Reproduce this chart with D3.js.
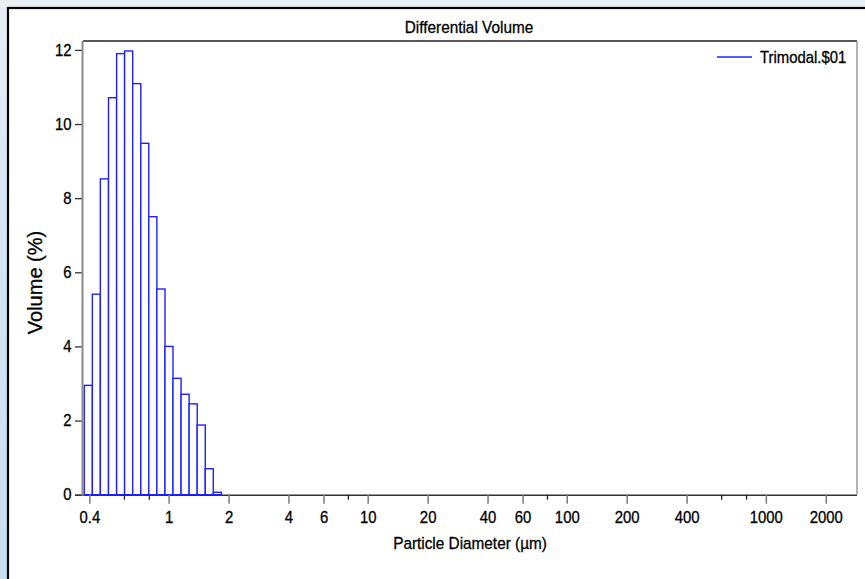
<!DOCTYPE html>
<html>
<head>
<meta charset="utf-8">
<script src="https://cdn.jsdelivr.net/npm/d3@7/dist/d3.min.js"></script>
<style>
  html, body { margin: 0; padding: 0; background: #fff; }
  svg { display: block; font-family: "Liberation Sans", Arial, sans-serif; }
  svg text { stroke: #000; stroke-width: 0.3px; }
</style>
</head>
<body>
<svg id="chart" width="865" height="579"></svg>
<script>
// Channel edges (µm) of the size bins that carry volume
const binEdges = [0.377, 0.414, 0.454, 0.499, 0.548, 0.601, 0.660, 0.725, 0.795,
                  0.873, 0.959, 1.052, 1.155, 1.268, 1.392, 1.528, 1.677, 1.841];
// Differential volume (%) per channel
const volumes = [2.95, 5.41, 8.52, 10.71, 11.90, 11.97, 11.09, 9.48, 7.50,
                 5.55, 4.00, 3.14, 2.71, 2.45, 1.88, 0.70, 0.065];
const seriesName = "Trimodal.$01";

// Axis ranges and ticks
const xDomain = [0.3715, 2870];
const yDomain = [0, 12.24];
const xMajorTicks = [0.4, 1, 2, 4, 6, 10, 20, 40, 60, 100, 200, 400, 1000, 2000];
const xMinorTicks = [0.6, 0.8, 8, 80, 600, 800];
const yTicks = [0, 2, 4, 6, 8, 10, 12];

const svg = d3.select("#chart");
const W = 865, H = 579;
const plot = { left: 83, right: 857, top: 41, bottom: 494.7 };
const FONT = "Liberation Sans, Arial, sans-serif";
const NARROW = 0.93;   // slightly condensed lettering

// Page backdrop and framed panel
const defs = svg.append("defs");
const gLeft = defs.append("linearGradient").attr("id", "sideGrad")
  .attr("x1", 0).attr("y1", 0).attr("x2", 0).attr("y2", 1);
gLeft.append("stop").attr("offset", "0%").attr("stop-color", "#e6edf4");
gLeft.append("stop").attr("offset", "45%").attr("stop-color", "#d3e4f3");
gLeft.append("stop").attr("offset", "100%").attr("stop-color", "#c9ddf2");
svg.append("rect").attr("width", W).attr("height", H).attr("fill", "url(#sideGrad)");
svg.append("rect").attr("x", 0).attr("y", 0).attr("width", W).attr("height", 8)
  .attr("fill", "#e9eef3");
svg.append("rect").attr("x", 8).attr("y", 8).attr("width", W).attr("height", H)
  .attr("fill", "#ffffff").attr("stroke", "#000").attr("stroke-width", 2.2);

const x = d3.scaleLog().domain(xDomain).range([plot.left, plot.right]);
const y = d3.scaleLinear().domain(yDomain).range([plot.bottom, plot.top]);

// Baseline drawn first so the bar bottoms sit on top of it
svg.append("line").attr("x1", plot.left - 8).attr("x2", plot.right)
  .attr("y1", plot.bottom + 0.6).attr("y2", plot.bottom + 0.6)
  .attr("stroke", "#333").attr("stroke-width", 1.4);

// Histogram bars
const bars = volumes.map((v, i) => ({ x0: binEdges[i], x1: binEdges[i + 1], v }));
svg.append("g").selectAll("rect").data(bars).join("rect")
  .attr("x", d => x(d.x0))
  .attr("width", d => x(d.x1) - x(d.x0))
  .attr("y", d => y(d.v))
  .attr("height", d => y(0) - y(d.v))
  .attr("fill", "#ffffff")
  .attr("stroke", "#1f1fff")
  .attr("stroke-width", 1.4);

// Plot frame: top and right edges
svg.append("line").attr("x1", plot.left).attr("x2", plot.right)
  .attr("y1", plot.top).attr("y2", plot.top).attr("stroke", "#222").attr("stroke-width", 1.3);
svg.append("line").attr("x1", plot.right).attr("x2", plot.right)
  .attr("y1", plot.top).attr("y2", plot.bottom).attr("stroke", "#8a8a8a").attr("stroke-width", 1.3);

// Y axis
const yAxis = svg.append("g").attr("transform", `translate(${plot.left},0)`)
  .call(d3.axisLeft(y).tickValues(yTicks).tickSize(8).tickPadding(3).tickFormat(d3.format("d")));
yAxis.select(".domain").remove();
yAxis.selectAll(".tick line").attr("stroke", "#333").attr("stroke-width", 1.3);
yAxis.selectAll(".tick text").attr("font-size", 16).attr("fill", "#000")
  .attr("font-family", FONT).attr("x", -11.5 / NARROW)
  .attr("transform", `scale(${NARROW},1)`);
svg.append("line").attr("x1", plot.left - 0.5).attr("x2", plot.left - 0.5)
  .attr("y1", plot.top).attr("y2", plot.bottom + 1).attr("stroke", "#8a8a8a").attr("stroke-width", 2);

// X axis: labelled major ticks plus short minor ticks
const xAxis = svg.append("g").attr("transform", `translate(0,${plot.bottom})`)
  .call(d3.axisBottom(x).tickValues(xMajorTicks).tickSize(9).tickPadding(8)
    .tickFormat(d => String(d)));
xAxis.select(".domain").remove();
xAxis.selectAll(".tick line").attr("stroke", "#7a7a7a").attr("stroke-width", 1.5);
xAxis.selectAll(".tick text").attr("font-size", 16).attr("fill", "#000")
  .attr("font-family", FONT).attr("transform", `scale(${NARROW},1)`);
svg.append("g").selectAll("line").data(xMinorTicks).join("line")
  .attr("x1", d => x(d)).attr("x2", d => x(d))
  .attr("y1", plot.bottom).attr("y2", plot.bottom + 5)
  .attr("stroke", "#222").attr("stroke-width", 1.3);

// Titles
function label(px, py, str, size, rot, squeeze) {
  svg.append("text")
    .attr("transform", `translate(${px},${py})${rot ? " rotate(-90)" : ""} scale(${squeeze},1)`)
    .attr("text-anchor", "middle").attr("font-size", size).attr("fill", "#000")
    .text(str);
}
label(469, 33, "Differential Volume", 16.5, false, NARROW);
label(470, 549, "Particle Diameter (µm)", 16.5, false, NARROW);
label(41.5, 282.5, "Volume (%)", 20, true, 1);

// Legend
svg.append("line").attr("x1", 717).attr("x2", 752).attr("y1", 57).attr("y2", 57)
  .attr("stroke", "#1f1fff").attr("stroke-width", 1.3);
svg.append("text").attr("transform", `translate(760,62.5) scale(${NARROW},1)`)
  .attr("font-size", 16).attr("fill", "#000").text(seriesName);
</script>
</body>
</html>
